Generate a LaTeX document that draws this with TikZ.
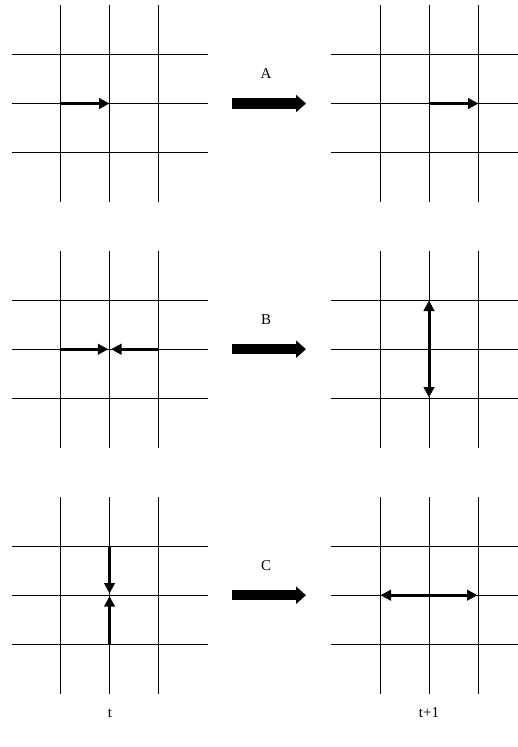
\documentclass[tikz,border=0pt]{standalone}
\usepackage{fontspec}
\setmainfont{Liberation Serif}
\usetikzlibrary{arrows.meta}
\tikzset{
  gridline/.style={line width=0.9pt, black},
  moveArrow/.style={line width=3pt, -{Triangle[length=10.5pt,width=10.5pt]}},
  moveDouble/.style={line width=3pt, {Triangle[length=10.5pt,width=10.5pt]}-{Triangle[length=10.5pt,width=10.5pt]}},
  bigArrow/.style={line width=10.5pt, -{Triangle[length=10pt,width=17pt]}},
  lbl/.style={font=\fontsize{15}{15}\selectfont, inner sep=0pt}
}
\newcommand{\latgrid}[2]{%
  % #1 = x of first vertical, #2 = y of first horizontal
  \foreach \k in {0,1,2}{
    \draw[gridline] ({#1+49*\k},{#2-49}) -- ({#1+49*\k},{#2+147.5});
    \draw[gridline] ({#1-49},{#2+49*\k}) -- ({#1+147.5},{#2+49*\k});
  }}
\begin{document}
\begin{tikzpicture}[x=1pt,y=-1pt]
\useasboundingbox (0,0) rectangle (517,747);
% grids
\latgrid{60.5}{54.2}
\latgrid{380}{54.2}
\latgrid{60.5}{300.2}
\latgrid{380}{300.2}
\latgrid{60.5}{546.2}
\latgrid{380}{546.2}
% row A
\coordinate (a1s) at (60.5,103.5);
\coordinate (a1e) at (109.5,103.5);
\coordinate (a2s) at (429.5,103.5);
\coordinate (a2e) at (478.5,103.5);
\draw[moveArrow] (a1s) -- (a1e);
\draw[moveArrow] (a2s) -- (a2e);
\coordinate (bAs) at (232,103.5);
\coordinate (bAe) at (306,103.5);
\draw[bigArrow] (bAs) -- (bAe);
\node[lbl] (labA) at (266,74) {A};
% row B
\coordinate (b1s) at (60.5,349.2);
\coordinate (b1e) at (108.3,349.2);
\coordinate (b2s) at (158.5,349.2);
\coordinate (b2e) at (111,349.2);
\draw[moveArrow] (b1s) -- (b1e);
\draw[moveArrow] (b2s) -- (b2e);
\coordinate (b3s) at (429,300.5);
\coordinate (b3e) at (429,397.5);
\draw[moveDouble] (b3s) -- (b3e);
\coordinate (bBs) at (232,349.2);
\coordinate (bBe) at (306,349.2);
\draw[bigArrow] (bBs) -- (bBe);
\node[lbl] (labB) at (266,320) {B};
% row C
\coordinate (c1s) at (109.5,546.2);
\coordinate (c1e) at (109.5,593.5);
\coordinate (c2s) at (109.5,644.2);
\coordinate (c2e) at (109.5,596.2);
\draw[moveArrow] (c1s) -- (c1e);
\draw[moveArrow] (c2s) -- (c2e);
\coordinate (c3s) at (380.5,595.2);
\coordinate (c3e) at (477.5,595.2);
\draw[moveDouble] (c3s) -- (c3e);
\coordinate (bCs) at (232,595.2);
\coordinate (bCe) at (306,595.2);
\draw[bigArrow] (bCs) -- (bCe);
\node[lbl] (labC) at (266,566) {C};
% time labels
\node[lbl] (labt) at (110,713) {t};
\node[lbl] (labt1) at (429,713) {t+1};
\end{tikzpicture}
\end{document}
